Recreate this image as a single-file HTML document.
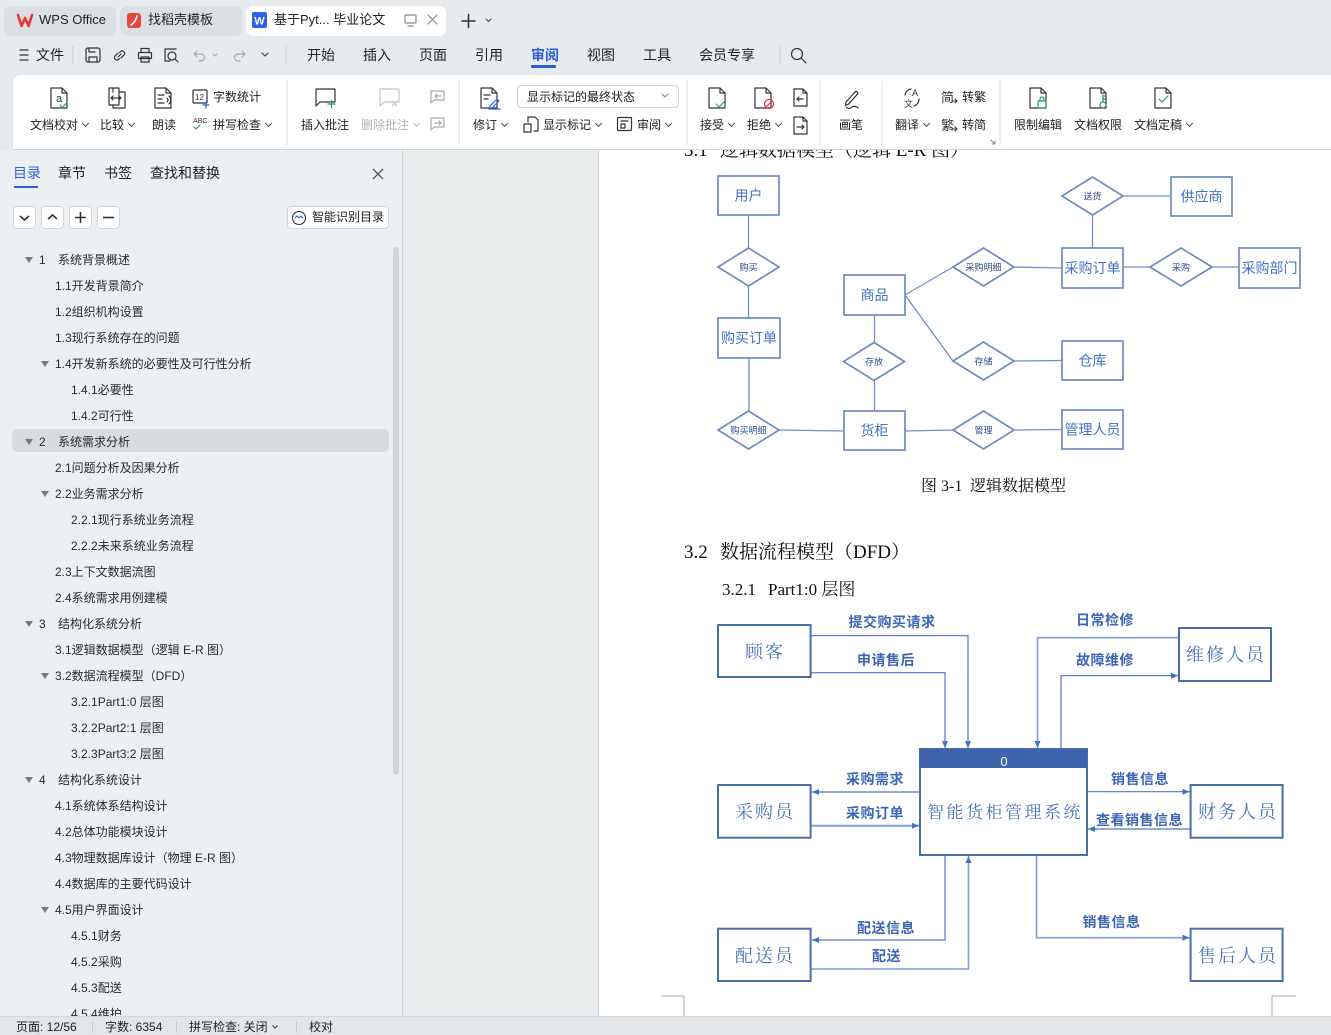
<!DOCTYPE html>
<html><head><meta charset="utf-8"><style>
*{margin:0;padding:0;box-sizing:border-box}
html,body{width:1331px;height:1035px;overflow:hidden}
body{background:#e7ebee;font-family:"Liberation Sans","Noto Sans CJK SC",sans-serif;color:#222;position:relative}
.a{position:absolute;white-space:nowrap}
.m{font-size:14px;line-height:20px;top:45px;color:#222}
.r{font-size:12px;line-height:16px;color:#222}
.dd{display:inline-block;width:5px;height:5px;border-right:1.3px solid #444;border-bottom:1.3px solid #444;transform:rotate(45deg);margin-left:5px;position:relative;top:-3px}
.tr{position:absolute;white-space:nowrap;font-size:12px;line-height:16px;color:#2a2a2a}
.tri{position:absolute;width:0;height:0;border-left:4px solid transparent;border-right:4px solid transparent;border-top:6px solid #7a7a7a}
.btn{position:absolute;top:56px;width:23px;height:23px;background:#fff;border:1px solid #d3d7da;border-radius:4px}
</style></head><body>

<!-- title tabs -->
<div class="a" style="left:4px;top:6px;width:112px;height:30px;background:#dbe0e4;border-radius:7px"></div>
<div class="a" style="left:120px;top:6px;width:122px;height:30px;background:#dbe0e4;border-radius:7px"></div>
<div class="a" style="left:246px;top:6px;width:200px;height:30px;background:#fff;border-radius:7px"></div>
<div class="a" style="left:39px;top:12px;font-size:13px;line-height:16px">WPS Office</div>
<div class="a" style="left:148px;top:12px;font-size:13px;line-height:16px">找稻壳模板</div>
<div class="a" style="left:274px;top:12px;font-size:13px;line-height:16px">基于Pyt... 毕业论文</div>

<!-- menu row -->
<div class="a m" style="left:36px">文件</div>
<div class="a m" style="left:307px">开始</div>
<div class="a m" style="left:363px">插入</div>
<div class="a m" style="left:419px">页面</div>
<div class="a m" style="left:475px">引用</div>
<div class="a m" style="left:531px;color:#2b5fd9;font-weight:bold">审阅</div>
<div class="a m" style="left:587px">视图</div>
<div class="a m" style="left:643px">工具</div>
<div class="a m" style="left:699px">会员专享</div>
<div class="a" style="left:531px;top:65px;width:25px;height:3px;background:#2b5fd9;border-radius:1px"></div>

<!-- ribbon panel -->
<div class="a" style="left:13px;top:75px;width:1330px;height:74px;background:#fff;border-radius:8px 0 0 0;box-shadow:0 1px 2px rgba(0,0,0,.14)"></div>
<div class="a" style="left:517px;top:85px;width:162px;height:23px;border:1px solid #d0d4d8;border-radius:4px;background:#fff"></div>
<div class="a r" style="left:527px;top:89px">显示标记的最终状态</div>

<div class="a r" style="left:30px;top:117px">文档校对<i class="dd"></i></div>
<div class="a r" style="left:100px;top:117px">比较<i class="dd"></i></div>
<div class="a r" style="left:152px;top:117px">朗读</div>
<div class="a r" style="left:213px;top:89px">字数统计</div>
<div class="a r" style="left:213px;top:117px">拼写检查<i class="dd"></i></div>
<div class="a r" style="left:301px;top:117px">插入批注</div>
<div class="a r" style="left:361px;top:117px;color:#b4b4b4">删除批注<i class="dd" style="border-color:#bbb"></i></div>
<div class="a r" style="left:473px;top:117px">修订<i class="dd"></i></div>
<div class="a r" style="left:543px;top:117px">显示标记<i class="dd"></i></div>
<div class="a r" style="left:637px;top:117px">审阅<i class="dd"></i></div>
<div class="a r" style="left:700px;top:117px">接受<i class="dd"></i></div>
<div class="a r" style="left:747px;top:117px">拒绝<i class="dd"></i></div>
<div class="a r" style="left:839px;top:117px">画笔</div>
<div class="a r" style="left:895px;top:117px">翻译<i class="dd"></i></div>
<div class="a r" style="left:962px;top:89px">转繁</div>
<div class="a r" style="left:962px;top:117px">转简</div>
<div class="a r" style="left:1014px;top:117px">限制编辑</div>
<div class="a r" style="left:1074px;top:117px">文档权限</div>
<div class="a r" style="left:1134px;top:117px">文档定稿<i class="dd"></i></div>

<svg class="a" style="left:0;top:0" width="1331" height="150" fill="none" stroke="#333" stroke-width="1.2" stroke-linejoin="round" stroke-linecap="round">
<path d="M18 15l3.5 11 3.5-8 3.5 8 3.5-11" stroke="#e53935" stroke-width="2.6"/>
<rect x="127" y="13" width="14" height="15" rx="3" fill="#e8453c" stroke="none"/>
<path d="M131 25q4-2 6-9" stroke="#fff" stroke-width="1.6"/>
<rect x="252" y="12" width="15" height="16" rx="2" fill="#2e62e8" stroke="none"/>
<text x="259.5" y="24.5" font-size="11" font-weight="bold" fill="#fff" stroke="none" text-anchor="middle" font-family="Liberation Sans">W</text>
<rect x="405" y="15" width="11" height="8" rx="1" stroke="#888"/><path d="M408 26h5" stroke="#888"/>
<path d="M428 15l9 9M437 15l-9 9" stroke="#888"/>
<path d="M462 21h13M468.5 14.5v13" stroke-width="1.6"/>
<path d="M486 19l2.5 2.5 2.5-2.5" stroke="#555"/>
<!-- menu icons -->
<path d="M20 50h8M20 55h8M20 60h8"/>
<path d="M73 46v18M286 46v18M780 46v18" stroke="#cfd3d6"/>
<rect x="86" y="48" width="14" height="14" rx="2"/><path d="M89 62v-5h8v5M89 48v4h6"/>
<path d="M118 53l-3 3a2.5 2.5 0 0 0 3.5 3.5l1-1M121 58l3-3a2.5 2.5 0 0 0-3.5-3.5l-1 1M118 57l3-3"/>
<rect x="138.5" y="52.5" width="13" height="6" rx="1"/><path d="M141 52.5v-4h8v4M141 57h8v5h-8z"/>
<path d="M176 49h-11v12h5"/><circle cx="172" cy="56" r="4"/><path d="M175 59l3 3"/>
<path d="M197 51l-3 3 3 3M194 54h7a3.5 3.5 0 0 1 0 7h-2" stroke="#aaa"/><path d="M213 54l2 2 2-2" stroke="#aaa"/>
<path d="M242 51l3 3-3 3M245 54h-7a3.5 3.5 0 0 0 0 7h2" stroke="#aaa"/>
<path d="M262 53l3 3 3-3" stroke="#444"/>
<circle cx="797" cy="54" r="5.5"/><path d="M801 58l5 5"/>
<!-- ribbon separators -->
<path d="M287 81v64M459 81v64M687 81v64M820 81v64M882 81v64M1000 81v64" stroke="#e2e4e6"/>
<!-- 文档校对 -->
<path d="M51 88h11l5 5v15h-16zM62 88v5h5"/>
<text x="56" y="102" font-size="11" fill="#333" stroke="none" font-family="Liberation Sans">a</text>
<path d="M60 105l2.5 2.5 4.5-5" stroke="#2e9e6a"/>
<!-- 比较 -->
<path d="M109 88h10v17h-10z M113 92v-4M119 92h6v16h-12v-3"/>
<path d="M111 98h10M113 96l-2 2 2 2M119 96l2 2-2 2"/>
<!-- 朗读 -->
<path d="M155 88h11l5 5v15h-16zM166 88v5h5M158 95h6M158 99h4M158 103h6"/>
<path d="M167 98q2 2 0 4M169 96q4 4 0 8"/>
<!-- 12 -->
<rect x="193" y="90" width="14" height="13" rx="1"/>
<text x="195" y="100" font-size="8" fill="#333" stroke="none" font-family="Liberation Sans">12</text>
<path d="M203 105h6M206 102v6" stroke="#2e62e8"/>
<text x="193" y="123" font-size="7" fill="#333" stroke="none" font-family="Liberation Sans">ABC</text>
<path d="M194 127l2 2 4-4" stroke="#2e9e6a"/>
<!-- 插入批注 -->
<path d="M316 89h19v13h-15l-4 4z"/>
<path d="M328 104h7M331.5 100.5v7" stroke="#1f9d60"/>
<path d="M380 89h19v13h-15l-4 4z" stroke="#c4c4c4"/>
<path d="M392 101l5 5M397 101l-5 5" stroke="#c4c4c4"/>
<path d="M431 91h13v9h-10l-3 3z" stroke="#aaa"/><path d="M441 96h-6M437 94l-2 2 2 2" stroke="#aaa"/>
<path d="M431 118h13v9h-10l-3 3z" stroke="#aaa"/><path d="M435 123h6M439 121l2 2-2 2" stroke="#aaa"/>
<!-- 修订 -->
<path d="M481 88h11l5 5v15h-16zM492 88v5h5M484 95h6M484 99h4"/>
<path d="M490 106l7-7 2 2-7 7h-2zM489 109h11" stroke="#2e62e8"/>
<!-- 显示标记 / 审阅 -->
<path d="M528 117h7l3 3v11h-4M528 117v5M524 124h7v8h-7z"/>
<rect x="617.5" y="117.5" width="14" height="13" rx="1"/><path d="M621 121h7M621 124v4h4v-4z"/>
<!-- 接受 拒绝 -->
<path d="M709 88h11l5 5v15h-16zM720 88v5h5"/>
<path d="M716 104l3 3 6-6" stroke="#2e9e6a"/>
<path d="M755 88h11l5 5v15h-16zM766 88v5h5"/>
<circle cx="769" cy="104" r="4.5" stroke="#e0344c"/><path d="M766 107l6-6" stroke="#e0344c"/>
<path d="M794 89h9l4 4v13h-13zM803 89v4h4M803 99h-6M799 97l-2 2 2 2"/>
<path d="M794 117h9l4 4v13h-13zM803 117v4h4M797 127h7M802 125l2 2-2 2"/>
<!-- 画笔 -->
<path d="M846 102l9-10a1.6 1.6 0 0 1 2.3 2.3l-9 10-3 1zM846 107q3 3 6 0q3-2 6 1"/>
<!-- 翻译 -->
<text x="912" y="96" font-size="9" fill="#333" stroke="none" font-family="Liberation Sans">A</text>
<text x="904" y="107" font-size="9" fill="#333" stroke="none" font-family="Noto Sans CJK SC">文</text>
<path d="M905 95a7 7 0 0 1 6-6M919 99a7 7 0 0 1-5 7"/>
<text x="941" y="102" font-size="13" fill="#333" stroke="none" font-family="Noto Sans CJK SC">简</text>
<text x="941" y="130" font-size="13" fill="#333" stroke="none" font-family="Noto Sans CJK SC">繁</text>
<path d="M952 101h5M955 99l2 2-2 2M952 129h5M955 127l2 2-2 2" stroke-width="1"/>
<path d="M991 140l4 4M992 144h3v-3" stroke="#888" stroke-width="1"/>
<!-- 限制编辑 / 权限 / 定稿 -->
<path d="M1030 88h11l5 5v15h-16zM1041 88v5h5"/>
<rect x="1038" y="101" width="8" height="7" stroke="#1f9d60"/><path d="M1040 101v-2a2 2 0 0 1 4 0v2" stroke="#1f9d60"/>
<path d="M1090 88h11l5 5v15h-16zM1101 88v5h5"/>
<circle cx="1103" cy="105" r="3" stroke="#1f9d60"/><path d="M1103 102v-7M1103 96h2M1103 99h2" stroke="#1f9d60"/>
<path d="M1155 88h11l5 5v15h-16zM1166 88v5h5"/>
<path d="M1159 99l3 3 6-6" stroke="#1f9d60"/>
<path d="M662 94l3 3 3-3" stroke="#888"/>
</svg>

<!-- sidebar -->
<div class="a" style="left:0;top:150px;width:403px;height:866px;background:#edf0f2;border-right:1px solid #d3d7da;overflow:hidden">
  <div class="a" style="left:13px;top:14px;font-size:14px;line-height:18px;color:#2f5fe0">目录</div>
  <div class="a" style="left:14px;top:36px;width:24px;height:2px;background:#2f5fe0"></div>
  <div class="a" style="left:58px;top:14px;font-size:14px;line-height:18px">章节</div>
  <div class="a" style="left:104px;top:14px;font-size:14px;line-height:18px">书签</div>
  <div class="a" style="left:150px;top:14px;font-size:14px;line-height:18px">查找和替换</div>
  <svg class="a" style="left:372px;top:18px" width="12" height="12" stroke="#555" stroke-width="1.3"><path d="M1 1l10 10M11 1L1 11"/></svg>
  <div class="btn" style="left:13px"><svg width="21" height="21" fill="none" stroke="#333" stroke-width="1.6"><path d="M6 9l4.5 4 4.5-4"/></svg></div>
  <div class="btn" style="left:41px"><svg width="21" height="21" fill="none" stroke="#333" stroke-width="1.6"><path d="M6 12l4.5-4 4.5 4"/></svg></div>
  <div class="btn" style="left:69px"><svg width="21" height="21" fill="none" stroke="#333" stroke-width="1.6"><path d="M5 10.5h11M10.5 5v11"/></svg></div>
  <div class="btn" style="left:97px"><svg width="21" height="21" fill="none" stroke="#333" stroke-width="1.6"><path d="M5 10.5h11"/></svg></div>
  <div class="a" style="left:287px;top:56px;width:102px;height:23px;background:#fff;border:1px solid #d3d7da;border-radius:4px"></div>
  <svg class="a" style="left:291px;top:60px" width="17" height="16" fill="none" stroke="#333" stroke-width="1.1"><circle cx="8" cy="8" r="6.5"/><path d="M4 8l2-2 2 2M8 8l2-2 2 2" stroke="#2e62e8"/></svg>
  <div class="a" style="left:312px;top:59px;font-size:12px;line-height:16px">智能识别目录</div>
  <div class="a" style="left:393px;top:97px;width:6px;height:528px;background:#d2d5d8;border-radius:3px"></div>
  <div class="a" style="left:12px;top:279px;width:377px;height:23px;background:#d8dcdf;border-radius:6px"></div>

  <div class="tri" style="left:25px;top:107px"></div><div class="tr" style="left:39px;top:102px">1</div><div class="tr" style="left:58px;top:102px">系统背景概述</div>
  <div class="tr" style="left:55px;top:128px">1.1开发背景简介</div>
  <div class="tr" style="left:55px;top:154px">1.2组织机构设置</div>
  <div class="tr" style="left:55px;top:180px">1.3现行系统存在的问题</div>
  <div class="tri" style="left:41px;top:211px"></div><div class="tr" style="left:55px;top:206px">1.4开发新系统的必要性及可行性分析</div>
  <div class="tr" style="left:71px;top:232px">1.4.1必要性</div>
  <div class="tr" style="left:71px;top:258px">1.4.2可行性</div>
  <div class="tri" style="left:25px;top:289px"></div><div class="tr" style="left:39px;top:284px">2</div><div class="tr" style="left:58px;top:284px">系统需求分析</div>
  <div class="tr" style="left:55px;top:310px">2.1问题分析及因果分析</div>
  <div class="tri" style="left:41px;top:341px"></div><div class="tr" style="left:55px;top:336px">2.2业务需求分析</div>
  <div class="tr" style="left:71px;top:362px">2.2.1现行系统业务流程</div>
  <div class="tr" style="left:71px;top:388px">2.2.2未来系统业务流程</div>
  <div class="tr" style="left:55px;top:414px">2.3上下文数据流图</div>
  <div class="tr" style="left:55px;top:440px">2.4系统需求用例建模</div>
  <div class="tri" style="left:25px;top:471px"></div><div class="tr" style="left:39px;top:466px">3</div><div class="tr" style="left:58px;top:466px">结构化系统分析</div>
  <div class="tr" style="left:55px;top:492px">3.1逻辑数据模型（逻辑 E-R 图）</div>
  <div class="tri" style="left:41px;top:523px"></div><div class="tr" style="left:55px;top:518px">3.2数据流程模型（DFD）</div>
  <div class="tr" style="left:71px;top:544px">3.2.1Part1:0 层图</div>
  <div class="tr" style="left:71px;top:570px">3.2.2Part2:1 层图</div>
  <div class="tr" style="left:71px;top:596px">3.2.3Part3:2 层图</div>
  <div class="tri" style="left:25px;top:627px"></div><div class="tr" style="left:39px;top:622px">4</div><div class="tr" style="left:58px;top:622px">结构化系统设计</div>
  <div class="tr" style="left:55px;top:648px">4.1系统体系结构设计</div>
  <div class="tr" style="left:55px;top:674px">4.2总体功能模块设计</div>
  <div class="tr" style="left:55px;top:700px">4.3物理数据库设计（物理 E-R 图）</div>
  <div class="tr" style="left:55px;top:726px">4.4数据库的主要代码设计</div>
  <div class="tri" style="left:41px;top:757px"></div><div class="tr" style="left:55px;top:752px">4.5用户界面设计</div>
  <div class="tr" style="left:71px;top:778px">4.5.1财务</div>
  <div class="tr" style="left:71px;top:804px">4.5.2采购</div>
  <div class="tr" style="left:71px;top:830px">4.5.3配送</div>
  <div class="tr" style="left:71px;top:856px">4.5.4维护</div>
</div>

<!-- gray middle & page -->
<div class="a" style="left:403px;top:150px;width:196px;height:866px;background:#e9eded;border-right:1px solid #d3d6d8"></div>
<div class="a" style="left:599px;top:150px;width:732px;height:866px;background:#fff"></div>

<svg class="a" style="left:599px;top:150px" width="732" height="866">
<defs>
<marker id="ar" markerWidth="8" markerHeight="8" refX="7" refY="4" orient="auto" markerUnits="userSpaceOnUse"><path d="M0 1L7 4L0 7z" fill="#4472c4"/></marker>
</defs>
<g transform="translate(-599,-150)">
<g font-family="'Liberation Serif','Noto Serif CJK SC',serif" fill="#111">
<text x="684" y="156" font-size="19">3.1</text><text x="720" y="156" font-size="19">逻辑数据模型（逻辑 E-R 图）</text>
<text x="921" y="491" font-size="16">图 3-1</text><text x="970" y="491" font-size="16">逻辑数据模型</text>
<text x="684" y="558" font-size="19">3.2</text><text x="720" y="558" font-size="19">数据流程模型（DFD）</text>
<text x="722" y="595" font-size="17">3.2.1</text><text x="768" y="595" font-size="17">Part1:0 层图</text>
</g>
<!-- ER lines -->
<g stroke="#7190c6" stroke-width="1.3" fill="none">
<path d="M748.5 215V248M748.5 286V318M749 358V411M779 430L844 431M874.5 315V343M874.5 380V411M905 431L953 430M1014 430L1062 429.5M905 295L953 267M905 295L953 361M1014 361L1062 360.5M1014 267L1062 268M1092.5 248V215M1123 196H1171M1123 267H1150M1212 267H1239"/>
</g>
<g stroke="#6d8cc0" stroke-width="1.7" fill="#fff">
<rect x="718" y="176" width="61" height="39"/>
<rect x="718" y="318" width="62" height="40"/>
<rect x="844" y="275" width="61" height="40"/>
<rect x="844" y="411" width="61" height="39"/>
<rect x="1062" y="410" width="61" height="39"/>
<rect x="1062" y="341" width="61" height="39"/>
<rect x="1062" y="248" width="61" height="40"/>
<rect x="1171" y="177" width="61" height="39"/>
<rect x="1239" y="248" width="61" height="40"/>
<path d="M718 267L748.5 248L779 267L748.5 286z"/>
<path d="M718 430L748.5 411L779 430L748.5 449z"/>
<path d="M843.5 361.5L874 342.5L904.5 361.5L874 380.5z"/>
<path d="M953 430L983.5 411L1014 430L983.5 449z"/>
<path d="M953 361L983.5 342L1014 361L983.5 380z"/>
<path d="M953 267L983.5 248L1014 267L983.5 286z"/>
<path d="M1062 196L1092.5 177L1123 196L1092.5 215z"/>
<path d="M1150 267L1181 248L1212 267L1181 286z"/>
</g>
<g font-family="'Liberation Sans','Noto Sans CJK SC',sans-serif" fill="#4472c4" font-size="14" text-anchor="middle">
<text x="748.5" y="200.5">用户</text>
<text x="749" y="343">购买订单</text>
<text x="874.5" y="300">商品</text>
<text x="874.5" y="435.5">货柜</text>
<text x="1092.5" y="434.5">管理人员</text>
<text x="1092.5" y="365.5">仓库</text>
<text x="1092.5" y="273">采购订单</text>
<text x="1201.5" y="201.5">供应商</text>
<text x="1269.5" y="273">采购部门</text>
</g>
<g font-family="'Liberation Sans','Noto Sans CJK SC',sans-serif" fill="#2f4f8f" font-size="9" text-anchor="middle">
<text x="748.5" y="270.5">购买</text>
<text x="748.5" y="433.5">购买明细</text>
<text x="874" y="365">存放</text>
<text x="983.5" y="433.5">管理</text>
<text x="983.5" y="364.5">存储</text>
<text x="983.5" y="270.5">采购明细</text>
<text x="1092.5" y="199.5">送货</text>
<text x="1181" y="270.5">采购</text>
</g>

<!-- DFD lines -->
<g stroke="#4f77c4" stroke-width="1.2" fill="none">
<path d="M811 635.7H968V748" marker-end="url(#ar)"/>
<path d="M811 672.7H945V748" marker-end="url(#ar)"/>
<path d="M1179 637.7H1037.5V748" marker-end="url(#ar)" stroke="#7f9fd6" stroke-width="1.6"/>
<path d="M1061 749V675.7H1178" marker-end="url(#ar)"/>
<path d="M920 792H812" marker-end="url(#ar)"/>
<path d="M811 825.7H919" marker-end="url(#ar)" stroke="#7f9fd6" stroke-width="2"/>
<path d="M1087 791.7H1189.5" marker-end="url(#ar)"/>
<path d="M1190.6 829H1088" marker-end="url(#ar)"/>
<path d="M945 855V940H812" marker-end="url(#ar)"/>
<path d="M811 969H968.5V856" marker-end="url(#ar)" stroke="#7f9fd6" stroke-width="1.6"/>
<path d="M1036.5 855V937.7H1189.5" marker-end="url(#ar)" stroke="#7f9fd6" stroke-width="1.6"/>
</g>
<g stroke="#4a6fa5" stroke-width="2" fill="#fff">
<rect x="718" y="625" width="92.6" height="52"/>
<rect x="1179" y="628" width="92" height="53"/>
<rect x="718" y="785" width="92.6" height="52.7"/>
<rect x="1190.6" y="785" width="92" height="52.7"/>
<rect x="718" y="928.7" width="92.6" height="52.3"/>
<rect x="1190.6" y="928.7" width="92" height="52.3"/>
<rect x="920" y="749" width="167" height="106"/>
</g>
<rect x="920" y="749" width="167" height="19" fill="#3f63ad"/>
<text x="1004" y="766" font-size="13" fill="#fff" text-anchor="middle" font-family="'Liberation Sans',sans-serif">0</text>
<g font-family="'Liberation Serif','Noto Serif CJK SC',serif" fill="#4a72b8" font-size="18" text-anchor="middle" letter-spacing="2">
<text x="765" y="658">顾客</text>
<text x="1226" y="661">维修人员</text>
<text x="765" y="818">采购员</text>
<text x="1238" y="818">财务人员</text>
<text x="765" y="962">配送员</text>
<text x="1238" y="962">售后人员</text>
<text x="1005" y="818" font-size="17" letter-spacing="2.5">智能货柜管理系统</text>
</g>
<g font-family="'Liberation Sans','Noto Sans CJK SC',sans-serif" fill="#3c65b5" font-size="14" font-weight="bold" text-anchor="middle" letter-spacing="0.5">
<text x="892" y="627">提交购买请求</text>
<text x="886" y="665">申请售后</text>
<text x="1105" y="625">日常检修</text>
<text x="1105" y="665">故障维修</text>
<text x="875" y="784">采购需求</text>
<text x="875" y="818">采购订单</text>
<text x="1140" y="784">销售信息</text>
<text x="1139.5" y="825">查看销售信息</text>
<text x="886" y="933">配送信息</text>
<text x="886.5" y="961">配送</text>
<text x="1111.5" y="927">销售信息</text>
</g>
<path d="M661 996H684V1016M1296 996H1272V1016" stroke="#a8a8a8" stroke-width="1" fill="none"/>
</g>
</svg>

<!-- status bar -->
<div class="a" style="left:0;top:1016px;width:1331px;height:19px;background:#e2e6e9;border-top:1px solid #d3d7da"></div>
<div class="a" style="left:16px;top:1019px;font-size:12px;line-height:16px">页面: 12/56</div>
<div class="a" style="left:105px;top:1019px;font-size:12px;line-height:16px">字数: 6354</div>
<div class="a" style="left:189px;top:1019px;font-size:12px;line-height:16px">拼写检查: 关闭<i class="dd" style="width:4px;height:4px"></i></div>
<div class="a" style="left:309px;top:1019px;font-size:12px;line-height:16px">校对</div>
<div class="a" style="left:92px;top:1021px;width:1px;height:12px;background:#c5c9cc"></div>
<div class="a" style="left:176px;top:1021px;width:1px;height:12px;background:#c5c9cc"></div>
<div class="a" style="left:296px;top:1021px;width:1px;height:12px;background:#c5c9cc"></div>
</body></html>
